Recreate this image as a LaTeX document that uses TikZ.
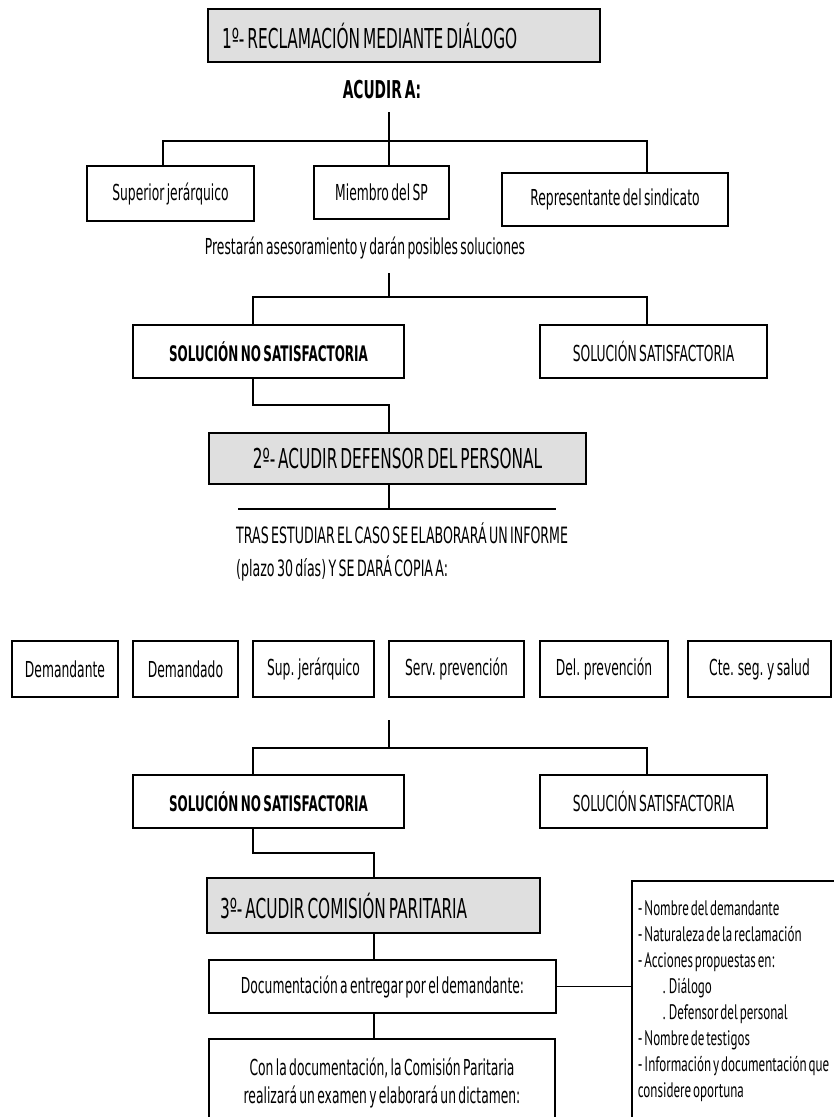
\documentclass[tikz,border=0pt]{standalone}
\usepackage{fontspec}
\usepackage{tikz}
\newfontfamily\narrowsans{DejaVu Sans}[FakeStretch=0.56, WordSpace=0.6]
\newfontfamily\listsans{PT Sans}[FakeStretch=0.62, WordSpace=0.55]

\begin{document}
\begin{tikzpicture}[x=1pt, y=1pt,
        box/.style={draw, line width=1.8pt, inner sep=0pt, font=\narrowsans\fontsize{22}{26}\selectfont},
        titlebox/.style={box, fill=gray!25, font=\narrowsans\fontsize{27.4}{30}\selectfont},
        boldbox/.style={box, font=\narrowsans\bfseries\fontsize{21.4}{26}\selectfont},
        plain/.style={inner sep=0pt, font=\narrowsans\fontsize{22}{26}\selectfont},
        wire/.style={line width=1.8pt}]
    \useasboundingbox (0,0) rectangle (834,-1117);
    \clip (0,0) rectangle (834,-1117);

    % paso 1
    \node[titlebox, minimum width=392pt, minimum height=53pt] (t1) at (404,-35.5) {\makebox[364pt][l]{1º- RECLAMACIÓN MEDIANTE DIÁLOGO}};
    \node[plain, font=\narrowsans\bfseries\fontsize{24.6}{28}\selectfont] (acudir) at (382,-90) {ACUDIR A:};

    \node[box, minimum width=167pt, minimum height=55pt] (sup) at (170.5,-193.5) {Superior jerárquico};
    \node[box, minimum width=135pt, minimum height=53pt] (mie) at (381.5,-192.5) {Miembro del SP};
    \node[box, minimum width=226pt, minimum height=53pt] (rep) at (615,-199.5) {Representante del sindicato};
    \node[plain] (prest) at (365,-248) {Prestarán asesoramiento y darán posibles soluciones};

    \node[boldbox, minimum width=271pt, minimum height=53pt] (nos1) at (268.5,-351.5) {SOLUCIÓN NO SATISFACTORIA};
    \node[box, minimum width=227pt, minimum height=53pt] (sat1) at (653.5,-351.5) {SOLUCIÓN SATISFACTORIA};

    % paso 2
    \node[titlebox, minimum width=377pt, minimum height=51pt] (t2) at (397.5,-458.5) {2º- ACUDIR DEFENSOR DEL PERSONAL};
    \node[plain, anchor=west, align=left, font=\narrowsans\fontsize{22.5}{33}\selectfont] (tras) at (236,-551.5) {TRAS ESTUDIAR EL CASO SE ELABORARÁ UN INFORME\\(plazo 30 días) Y SE DARÁ COPIA A:};

    \node[box, minimum width=106pt, minimum height=56pt] (dem1) at (65,-669) {Demandante};
    \node[box, minimum width=105pt, minimum height=56pt] (dem2) at (185.5,-669) {Demandado};
    \node[box, minimum width=121pt, minimum height=56pt] (supj) at (313.5,-669) {Sup. jerárquico};
    \node[box, minimum width=135pt, minimum height=56pt] (serv) at (456.5,-669) {Serv. prevención};
    \node[box, minimum width=128pt, minimum height=56pt] (delp) at (604,-669) {Del. prevención};
    \node[box, minimum width=143pt, minimum height=56pt] (cte) at (759.5,-669) {Cte. seg. y salud};

    \node[boldbox, minimum width=271pt, minimum height=53pt] (nos2) at (268.5,-801.5) {SOLUCIÓN NO SATISFACTORIA};
    \node[box, minimum width=227pt, minimum height=53pt] (sat2) at (653.5,-801.5) {SOLUCIÓN SATISFACTORIA};

    % paso 3
    \node[titlebox, minimum width=333pt, minimum height=55pt] (t3) at (373.5,-905.5) {\makebox[307pt][l]{3º- ACUDIR COMISIÓN PARITARIA}};
    \node[box, minimum width=347pt, minimum height=53pt] (doc) at (382.5,-986.5) {Documentación a entregar por el demandante:};
    \node[box, minimum width=346pt, minimum height=88pt, align=center, font=\narrowsans\fontsize{22}{28}\selectfont] (fin) at (382,-1083) {Con la documentación, la Comisión Paritaria\\realizará un examen y elaborará un dictamen:};
    \node[box, anchor=north west, minimum height=240pt, inner xsep=6pt, text width=240pt, align=flush left, font=\listsans\fontsize{21}{26}\selectfont] (lst) at (631,-880) {- Nombre del demandante\\- Naturaleza de la reclamación\\- Acciones propuestas en:\\\hspace*{25pt}. Diálogo\\\hspace*{25pt}. Defensor del personal\\- Nombre de testigos\\- Información y documentación que\\considere oportuna};

    % lineas
    \coordinate (a1) at (389,-112);
    \coordinate (r1) at (389,-141);
    \coordinate (r1l) at (163,-141);
    \coordinate (r1r) at (647,-141);
    \draw[wire] (a1) -- (r1);
    \draw[wire] (r1l |- sup.north) -- (r1l) -- (r1r) -- (r1r |- rep.north);
    \draw[wire] (r1) -- (r1 |- mie.north);

    \coordinate (p1) at (389,-273);
    \coordinate (r2) at (389,-297);
    \coordinate (r2l) at (253,-297);
    \coordinate (r2r) at (647,-297);
    \draw[wire] (p1) -- (r2);
    \draw[wire] (r2l |- nos1.north) -- (r2l) -- (r2r) -- (r2r |- sat1.north);
    \coordinate (k1) at (253,-405);
    \draw[wire] (k1 |- nos1.south) -- (k1) -| (t2.north -| r2);

    \coordinate (u1) at (238,-509);
    \coordinate (u2) at (556,-509);
    \draw[wire] (t2.south -| r2) -- (r2 |- u1);
    \draw[wire] (u1) -- (u2);

    \coordinate (p2) at (389,-720);
    \coordinate (r3) at (389,-748);
    \coordinate (r3l) at (253,-748);
    \coordinate (r3r) at (647,-748);
    \draw[wire] (p2) -- (r3);
    \draw[wire] (r3l |- nos2.north) -- (r3l) -- (r3r) -- (r3r |- sat2.north);
    \coordinate (k2) at (253,-853);
    \coordinate (r4) at (374,-853);
    \draw[wire] (k2 |- nos2.south) -- (k2) -- (r4) -- (r4 |- t3.north);
    \draw[wire] (t3.south -| r4) -- (doc.north -| r4);
    \draw[wire] (doc.south -| r4) -- (fin.north -| r4);
    \draw[wire] (doc.east) -- (lst.west |- doc.east);
\end{tikzpicture}
\end{document}
